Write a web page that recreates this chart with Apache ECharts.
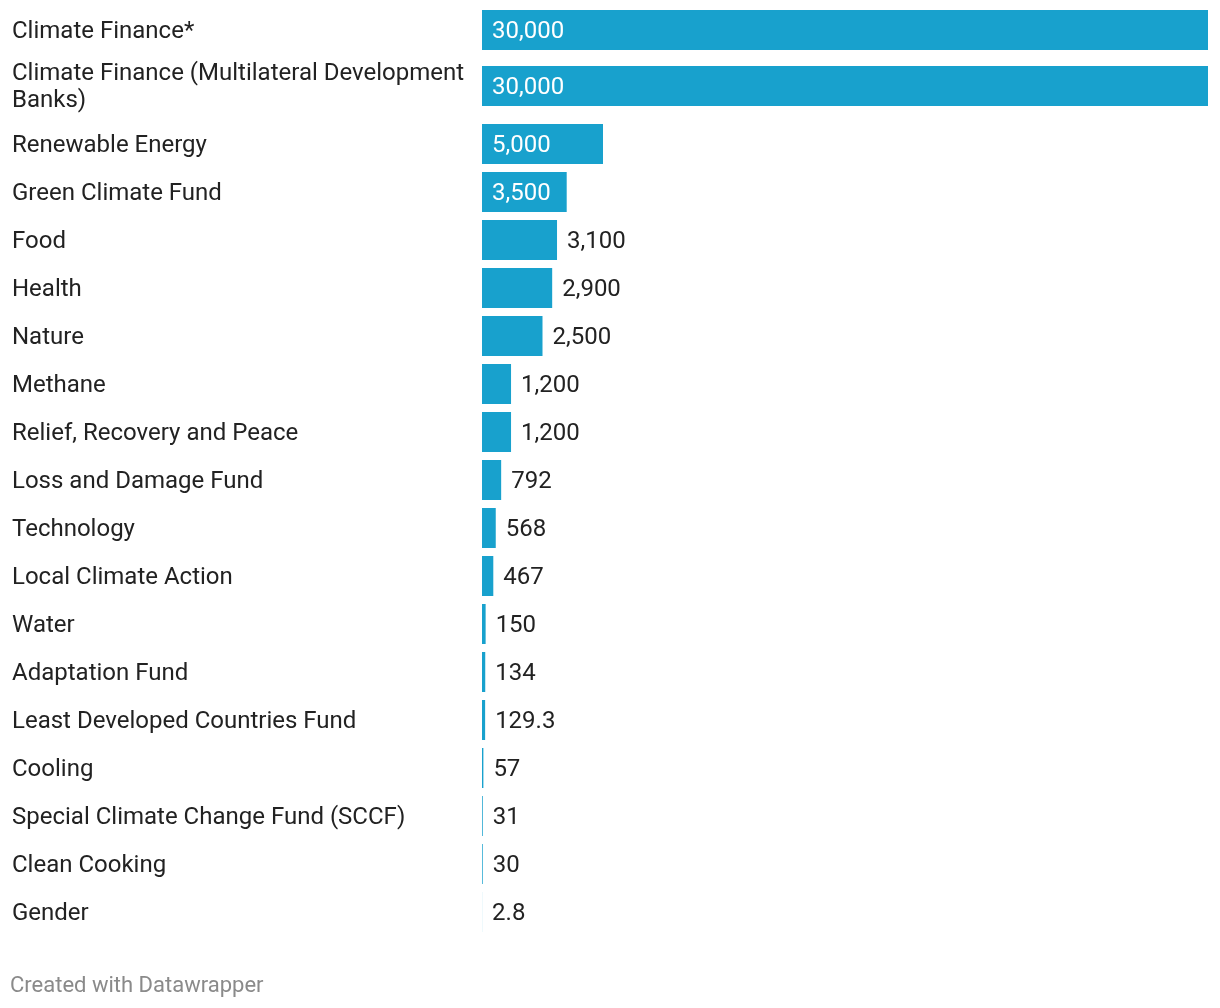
<!DOCTYPE html>
<html>
<head>
<meta charset="utf-8">
<script src="https://cdn.jsdelivr.net/npm/echarts@6/dist/echarts.min.js"></script>
<style>
html,body{margin:0;padding:0;background:#fff;}
#chart{width:1220px;height:1008px;}
</style>
</head>
<body>
<div id="chart"></div>
<script>
const categories = [
  "Climate Finance*",
  "Climate Finance (Multilateral Development Banks)",
  "Renewable Energy",
  "Green Climate Fund",
  "Food",
  "Health",
  "Nature",
  "Methane",
  "Relief, Recovery and Peace",
  "Loss and Damage Fund",
  "Technology",
  "Local Climate Action",
  "Water",
  "Adaptation Fund",
  "Least Developed Countries Fund",
  "Cooling",
  "Special Climate Change Fund (SCCF)",
  "Clean Cooking",
  "Gender"
];
const values = [30000, 30000, 5000, 3500, 3100, 2900, 2500, 1200, 1200, 792, 568, 467, 150, 134, 129.3, 57, 31, 30, 2.8];
const footerText = "Created with Datawrapper";

const BAR = "#18a1cd";
const TXT = "#222222";
const FONT = "Roboto";

function fmt(v){ return v.toLocaleString('en-US', {maximumFractionDigits: 3}); }
function item(v){
  const inside = v >= 3500;
  return {
    value: v,
    label: inside
      ? {show:true, position:'insideLeft', distance:10, color:'#ffffff'}
      : {show:true, position:'right', distance:10, color:TXT}
  };
}

const splitAt = 2;
const groups = [
  {cats: categories.slice(0, splitAt), vals: values.slice(0, splitAt), top: 2, height: 112},
  {cats: categories.slice(splitAt), vals: values.slice(splitAt), top: 120, height: 816}
];

const chart = echarts.init(document.getElementById('chart'));
const option = {
  animation: false,
  textStyle: {fontFamily: FONT},
  grid: groups.map(g => ({left: 482, right: 12, top: g.top, height: g.height, containLabel: false})),
  xAxis: groups.map((g, i) => ({
    type: 'value', gridIndex: i, min: 0, max: 30000, show: false
  })),
  yAxis: groups.map((g, i) => ({
    type: 'category', gridIndex: i, inverse: true, data: g.cats,
    axisLine: {show: false}, axisTick: {show: false}, splitLine: {show: false},
    axisLabel: {
      align: 'left', margin: 470, fontSize: 24, color: TXT, fontFamily: FONT,
      width: 462, overflow: 'break', lineHeight: 27,
      formatter: v => '{t|' + v + '}',
      rich: {t: {fontSize: 24, color: TXT, fontFamily: FONT, lineHeight: 27, padding: [3, 0, 0, 0]}}
    }
  })),
  series: groups.map((g, i) => ({
    type: 'bar', xAxisIndex: i, yAxisIndex: i,
    data: g.vals.map(item),
    barWidth: 40,
    itemStyle: {color: BAR},
    label: {
      show: true, fontSize: 24, fontFamily: FONT, offset: [0, 2],
      formatter: p => fmt(p.value)
    }
  })),
  graphic: [{
    type: 'text', left: 10, top: 975,
    style: {text: footerText, fontSize: 22, fontFamily: FONT, fill: '#8a8a8a'}
  }]
};
chart.setOption(option);
</script>
</body>
</html>
